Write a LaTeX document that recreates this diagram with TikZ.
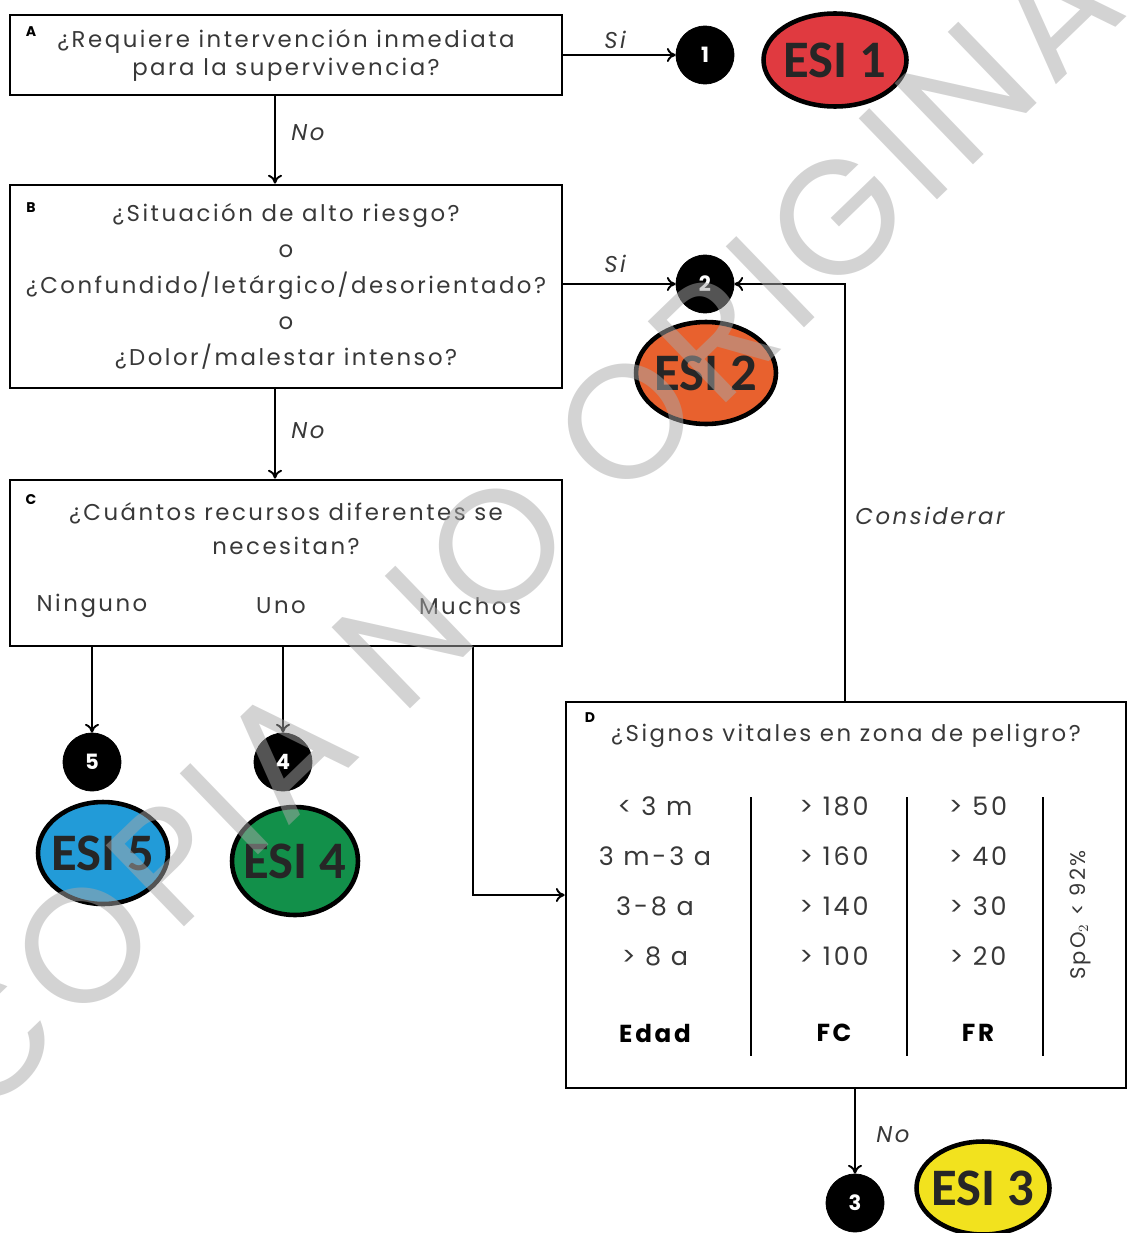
\documentclass[tikz,border=0pt]{standalone}
\usepackage{fontspec}
\setmainfont{Poppins}[LetterSpace=11]
\newfontfamily\esifont{Carlito}
\newfontfamily\wmfont{Poppins}[LetterSpace=6]
\usetikzlibrary{arrows.meta,shapes.geometric}
\definecolor{txt}{HTML}{383838}
\definecolor{esired}{HTML}{E03A40}
\definecolor{esiorange}{HTML}{E8612E}
\definecolor{esiyellow}{HTML}{F2E21E}
\definecolor{esigreen}{HTML}{12904A}
\definecolor{esiblue}{HTML}{229BD8}
\definecolor{wmgray}{HTML}{A8A8A8}
\begin{document}
\begin{tikzpicture}[x=0.02cm,y=-0.02cm,
  box/.style={draw, rectangle, line width=1.6pt, inner sep=0pt, text=txt, align=center},
  num/.style={circle, fill=black, draw=black, minimum size=1.16cm, inner sep=0pt, text=white, font=\bfseries\fontsize{12}{12}\selectfont},
  esi/.style={ellipse, draw=black, line width=2.6pt, inner sep=0pt, text=black!85, font=\esifont\bfseries\fontsize{30}{30}\selectfont},
  arr/.style={-{To[length=5pt,width=8pt]}, line width=1.1pt},
  lbl/.style={text=txt, font=\itshape\fontsize{13}{13}\selectfont},
  tx/.style={text=txt, font=\fontsize{13}{13}\selectfont},
  cell/.style={text=txt, font=\fontsize{14.5}{14.5}\selectfont},
  tag/.style={text=black, font=\bfseries\fontsize{8}{8}\selectfont},
  hd/.style={text=black, font=\bfseries\fontsize{14}{14}\selectfont}]
\useasboundingbox (0,0) rectangle (1128,1233);

% Box A
\node[box, minimum width=11.04cm, minimum height=1.6cm, font=\fontsize{13}{15.9}\selectfont] (A) at (286,55)
  {¿Requiere intervención inmediata\\para la supervivencia?};
\node[tag] (tA) at (31,32) {A};
\node[num] (n1) at (705,55) {1};
\node[esi, fill=esired, minimum width=2.86cm, minimum height=1.86cm] (e1) at (835,60) {\makebox[0pt]{ESI 1}};
\draw[arr] (A.east) -- (n1.west);
\node[lbl] (s1) at (615,40) {Si};

% Box B
\node[box, minimum width=11.04cm, minimum height=4.06cm, font=\fontsize{13}{20.4}\selectfont] (B) at (286,286.5)
  {¿Situación de alto riesgo?\\o\\¿Confundido/letárgico/desorientado?\\o\\¿Dolor/malestar intenso?};
\node[tag] (tB) at (31,208) {B};
\draw[arr] (A.south -| 275,0) -- (B.north -| 275,0);
\node[lbl] (no1) at (308,133) {No};
\node[num] (n2) at (705,284) {2};
\node[esi, fill=esiorange, minimum width=2.8cm, minimum height=2.04cm] (e2) at (706,373) {\makebox[0pt]{ESI 2}};
\draw[arr] (B.east |- n2) -- (n2.west);
\node[lbl] (s2) at (615,264) {Si};

% Box C
\node[box, minimum width=11.04cm, minimum height=3.32cm] (C) at (286,563) {};
\node[tag] (tC) at (31,500) {C};
\node[tx, align=center, font=\fontsize{13}{19.3}\selectfont] (Cq) at (286,529) {¿Cuántos recursos diferentes se\\necesitan?};
\node[tx] (o1) at (92,606) {Ninguno};
\node[tx] (o2) at (281,606) {Uno};
\node[tx] (o3) at (470,606) {Muchos};
\draw[arr] (B.south -| 275,0) -- (C.north -| 275,0);
\node[lbl] (no2) at (308,431) {No};

\node[num] (n5) at (92,762) {5};
\node[esi, fill=esiblue, minimum width=2.6cm, minimum height=2.04cm] (e5) at (103,853) {\makebox[0pt]{ESI 5}};
\node[num] (n4) at (283,762) {4};
\node[esi, fill=esigreen, minimum width=2.52cm, minimum height=2.16cm] (e4) at (295,861) {\makebox[0pt]{ESI 4}};
\draw[arr] (C.south -| n5) -- (n5.north);
\draw[arr] (C.south -| n4) -- (n4.north);

% Box D
\node[box, minimum width=11.2cm, minimum height=7.72cm] (D) at (846,895) {};
\node[tag] (tD) at (590,718) {D};
\node[tx] (Dq) at (846,736) {¿Signos vitales en zona de peligro?};
\coordinate (mu) at (473,646);
\draw[arr] (mu) |- (D.west);

\foreach \t [count=\i] in {{< 3 m},{3 m-3 a},{3-8 a},{> 8 a}}
  \node[cell] (ed\i) at (655,{756+50*\i}) {\t};
\foreach \t [count=\i] in {{> 180},{> 160},{> 140},{> 100}}
  \node[cell] (fc\i) at (834,{756+50*\i}) {\t};
\foreach \t [count=\i] in {{> 50},{> 40},{> 30},{> 20}}
  \node[cell] (fr\i) at (978,{756+50*\i}) {\t};
\node[hd] (h1) at (655,1033) {Edad};
\node[hd] (h2) at (834,1033) {FC};
\node[hd] (h3) at (978,1033) {FR};
\draw[line width=1.6pt] (751,797) -- (751,1056);
\draw[line width=1.6pt] (907,797) -- (907,1056);
\draw[line width=1.6pt] (1043,797) -- (1043,1056);
\node[tx, rotate=90, font=\fontsize{12}{12}\selectfont] (spo) at (1080,915) {SpO$_2$ < 92\%};

\coordinate (dtop) at (845,702);
\draw[arr] (dtop) |- (n2.east);
\node[lbl] (cons) at (930,516) {Considerar};

\node[num] (n3) at (855,1203) {3};
\node[esi, fill=esiyellow, minimum width=2.66cm, minimum height=1.86cm] (e3) at (983,1188) {\makebox[0pt]{ESI 3}};
\draw[arr] (n3 |- D.south) -- (n3.north);
\node[lbl] (no3) at (893,1135) {No};

% watermark
\node[rotate=44, text=wmgray, text opacity=0.5, font=\wmfont\fontsize{92}{92}\selectfont] (wm) at (545,500) {COPIA NO ORIGINAL};
\end{tikzpicture}
\end{document}
